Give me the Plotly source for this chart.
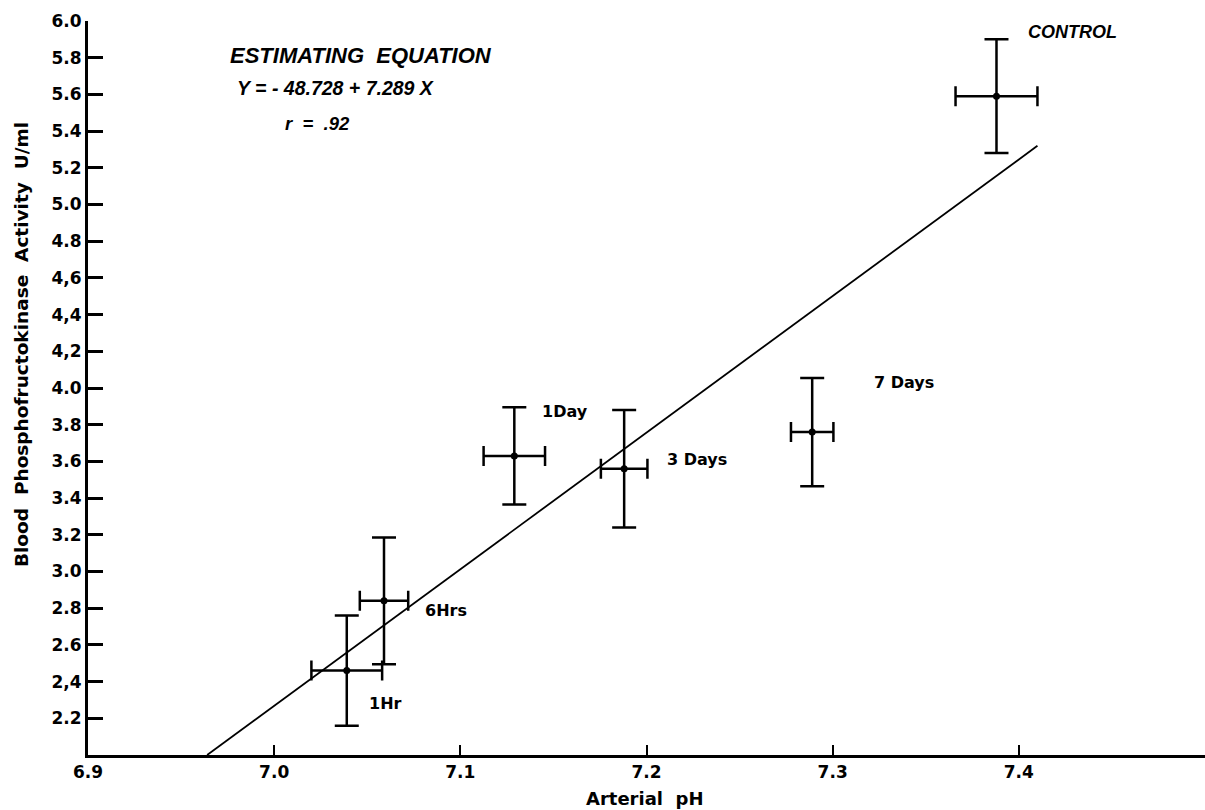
import plotly.graph_objects as go

# ---- data ----
labels = ["1Hr", "6Hrs", "1Day", "3 Days", "7 Days", "CONTROL"]
ph = [7.039, 7.059, 7.129, 7.188, 7.289, 7.388]
pfk = [2.46, 2.84, 3.63, 3.56, 3.76, 5.59]
ph_err = [0.019, 0.013, 0.0165, 0.0125, 0.0114, 0.022]
pfk_err = [0.30, 0.345, 0.265, 0.32, 0.295, 0.31]

line_x = [6.964, 7.41]
line_y = [2.0, 5.32]

x_ticks = [6.9, 7.0, 7.1, 7.2, 7.3, 7.4]
x_tick_text = ["6.9", "7.0", "7.1", "7.2", "7.3", "7.4"]
y_ticks = [2.2, 2.4, 2.6, 2.8, 3.0, 3.2, 3.4, 3.6, 3.8, 4.0, 4.2, 4.4, 4.6,
           4.8, 5.0, 5.2, 5.4, 5.6, 5.8, 6.0]
y_tick_text = ["2.2", "2,4", "2.6", "2.8", "3.0", "3.2", "3.4", "3.6", "3.8",
               "4.0", "4,2", "4,4", "4,6", "4.8", "5.0", "5.2", "5.4", "5.6",
               "5.8", "6.0"]

FONT = "DejaVu Sans"
IFONT = "Liberation Sans"

fig = go.Figure()

fig.add_trace(go.Scatter(
    x=line_x, y=line_y, mode="lines",
    line=dict(color="black", width=1.8), showlegend=False, hoverinfo="skip"))

fig.add_trace(go.Scatter(
    x=ph, y=pfk, mode="markers",
    marker=dict(color="black", size=7),
    error_x=dict(type="data", array=ph_err, visible=True, color="black",
                 thickness=2.5, width=10),
    error_y=dict(type="data", array=pfk_err, visible=True, color="black",
                 thickness=2.5, width=12),
    text=labels, showlegend=False))

annos = []
# point labels
label_pos = {
    "1Hr": (7.0498, 2.283),
    "6Hrs": (7.0799, 2.786),
    "1Day": (7.1427, 3.870),
    "3 Days": (7.2099, 3.612),
    "7 Days": (7.3209, 4.032),
}
for lab in labels:
    if lab in label_pos:
        lx, ly = label_pos[lab]
        annos.append(dict(x=lx, y=ly, xref="x", yref="y", text=lab,
                          showarrow=False, xanchor="left", yanchor="middle",
                          font=dict(family=FONT, size=16, color="black",
                                    weight="bold")))
annos.append(dict(x=7.4038, y=5.938, xref="x", yref="y",
                  text="<i>CONTROL</i>", showarrow=False,
                  xanchor="left", yanchor="middle",
                  font=dict(family=IFONT, size=18, color="black", weight="bold")))
annos.append(dict(x=6.9752, y=5.813, xref="x", yref="y",
                  text="<i>ESTIMATING  EQUATION</i>", showarrow=False,
                  xanchor="left", yanchor="middle",
                  font=dict(family=IFONT, size=22, color="black", weight="bold")))
annos.append(dict(x=6.979, y=5.633, xref="x", yref="y",
                  text="<i>Y = - 48.728 + 7.289 X</i>", showarrow=False,
                  xanchor="left", yanchor="middle",
                  font=dict(family=IFONT, size=19.5, color="black",
                            weight="bold")))
annos.append(dict(x=7.0047, y=5.442, xref="x", yref="y",
                  text="<i>r  =  .92</i>", showarrow=False,
                  xanchor="left", yanchor="middle",
                  font=dict(family=IFONT, size=18.5, color="black",
                            weight="bold")))
# axis titles
annos.append(dict(x=-0.059, y=0.5586, xref="paper", yref="paper",
                  text="Blood  Phosphofructokinase  Activity  U/ml",
                  textangle=-90, showarrow=False,
                  xanchor="center", yanchor="middle",
                  font=dict(family=FONT, size=18.5, color="black",
                            weight="bold")))
annos.append(dict(x=0.4982, y=-0.0586, xref="paper", yref="paper",
                  text="Arterial  pH", showarrow=False,
                  xanchor="center", yanchor="middle",
                  font=dict(family=FONT, size=18, color="black",
                            weight="bold")))

fig.update_layout(
    width=1205, height=810,
    margin=dict(l=88, r=0, t=21, b=55),
    paper_bgcolor="white", plot_bgcolor="white",
    annotations=annos,
    xaxis=dict(range=[6.9, 7.5], showgrid=False, zeroline=False,
               showline=True, linecolor="black", linewidth=3,
               tickmode="array", tickvals=x_ticks, ticktext=x_tick_text,
               ticks="inside", ticklen=10, tickwidth=2, tickcolor="black",
               tickfont=dict(family=FONT, size=17, color="black",
                             weight="bold")),
    yaxis=dict(range=[2.0, 6.0], showgrid=False, zeroline=False,
               showline=True, linecolor="black", linewidth=3,
               tickmode="array", tickvals=y_ticks, ticktext=y_tick_text,
               ticks="inside", ticklen=15, tickwidth=3, tickcolor="black",
               tickfont=dict(family=FONT, size=17, color="black",
                             weight="bold")),
)

# remove the page's default body margin so the figure fills the window exactly
fig.write_html("out.html",
               config={"displayModeBar": False},
               post_script="document.body.style.margin='0';"
                           "document.body.style.overflow='hidden';")
